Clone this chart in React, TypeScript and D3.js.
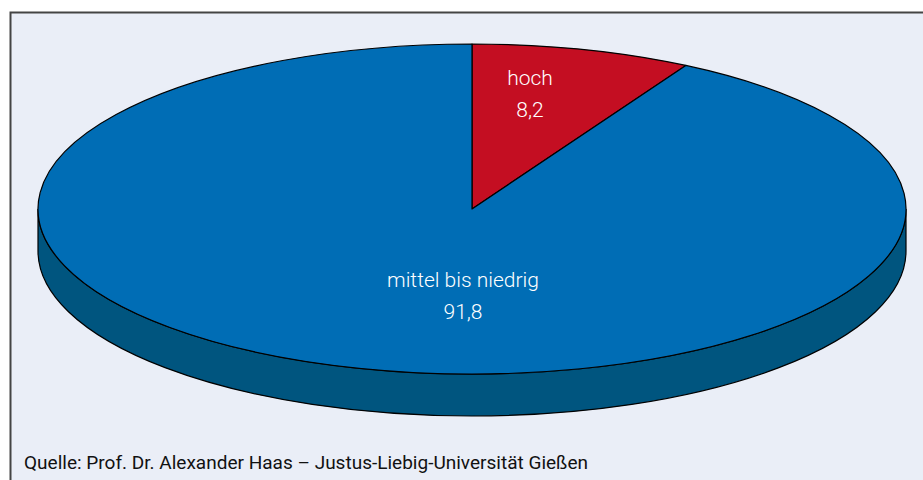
import React from "react";
import * as d3 from "d3";

const categories = ["hoch", "mittel bis niedrig"];
const values = [8.2, 91.8];
const valueLabels = ["8,2", "91,8"];
const sourceText = "Quelle: Prof. Dr. Alexander Haas – Justus-Liebig-Universität Gießen";

const W = 923;
const H = 480;
const cx = 472;
const cy = 209;
const rx = 434;
const ry = 165;
const depth = 42;

const topColors = ["#C40E22", "#006DB5"];
const sideColors = ["#8A0A18", "#00557F"];

function pt(a: number, dy = 0): [number, number] {
  return [cx + rx * Math.sin(a), cy - ry * Math.cos(a) + dy];
}

export default function App() {
  const pie = d3
    .pie<number>()
    .sort(null)
    .value((d) => d);
  const arcs = pie(values);

  const topPath = (s: number, e: number) => {
    const [x0, y0] = pt(s);
    const [x1, y1] = pt(e);
    const large = e - s > Math.PI ? 1 : 0;
    return `M${cx},${cy}L${x0},${y0}A${rx},${ry} 0 ${large} 1 ${x1},${y1}Z`;
  };

  const sidePath = (s: number, e: number) => {
    const a0 = Math.max(s, Math.PI / 2);
    const a1 = Math.min(e, (3 * Math.PI) / 2);
    if (a1 <= a0) return null;
    const [x0, y0] = pt(a0);
    const [x1, y1] = pt(a1);
    const [x2, y2] = pt(a1, depth);
    const [x3, y3] = pt(a0, depth);
    const large = a1 - a0 > Math.PI ? 1 : 0;
    return `M${x0},${y0}A${rx},${ry} 0 ${large} 1 ${x1},${y1}L${x2},${y2}A${rx},${ry} 0 ${large} 0 ${x3},${y3}Z`;
  };

  const labelPos: [number, number][] = [
    [530, 85],
    [463, 287],
  ];

  return (
    <svg
      width={W}
      height={H}
      style={{ position: "absolute", left: 0, top: 0, display: "block" }}
      fontFamily="Roboto, 'Liberation Sans', sans-serif"
    >
      <rect x={0} y={0} width={W} height={H} fill="#ffffff" />
      <rect x={10.5} y={12.5} width={W + 10} height={H + 10} fill="#EAEEF7" stroke="#444" strokeWidth={2} />
      {arcs.map((a, i) => {
        const d = sidePath(a.startAngle, a.endAngle);
        return d ? (
          <path key={"s" + i} d={d} fill={sideColors[i]} stroke="#000" strokeWidth={1.2} />
        ) : null;
      })}
      {arcs.map((a, i) => (
        <path key={"t" + i} d={topPath(a.startAngle, a.endAngle)} fill={topColors[i]} stroke="#000" strokeWidth={1.2} strokeLinejoin="round" />
      ))}
      {categories.map((c, i) => (
        <g key={"l" + i} fill="#fff" fontSize={21} textAnchor="middle" fontWeight={300}>
          <text x={labelPos[i][0]} y={labelPos[i][1]}>{c}</text>
          <text x={labelPos[i][0]} y={labelPos[i][1] + 32}>{valueLabels[i]}</text>
        </g>
      ))}
      <text x={24} y={469} fontSize={18} fill="#111" textLength={564} lengthAdjust="spacingAndGlyphs">{sourceText}</text>
    </svg>
  );
}
